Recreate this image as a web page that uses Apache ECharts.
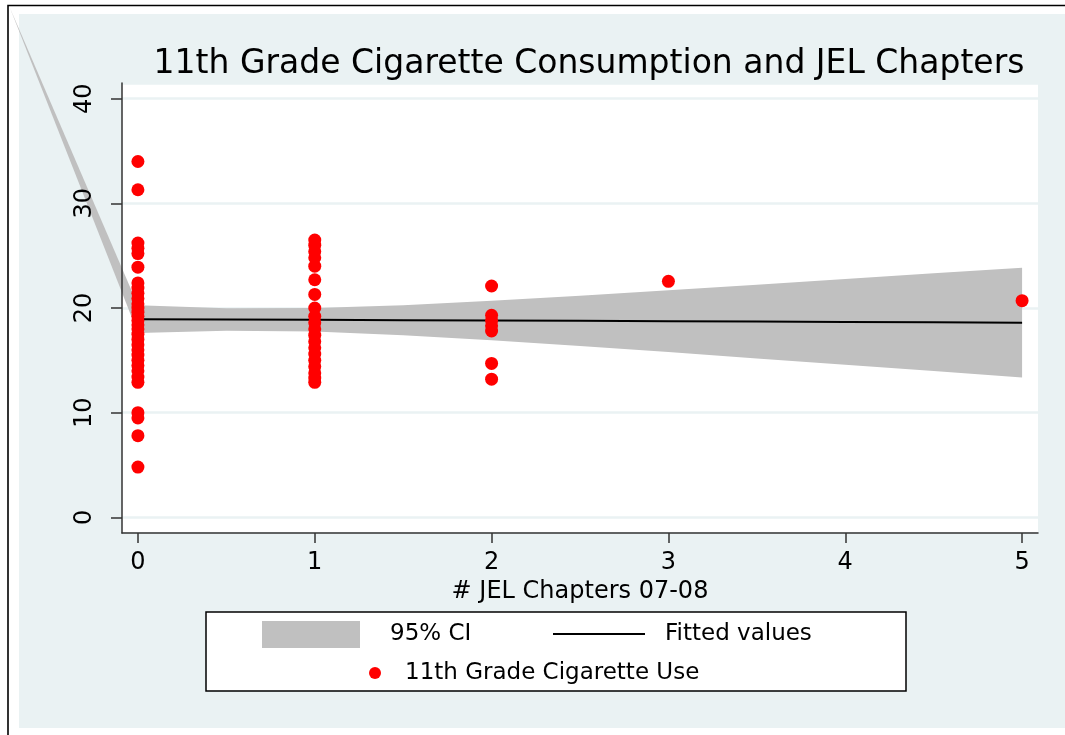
<!DOCTYPE html>
<html><head><meta charset="utf-8">
<script src="https://cdn.jsdelivr.net/npm/echarts@6/dist/echarts.min.js"></script>
<style>html,body{margin:0;padding:0;background:#fff}#c{width:1065px;height:735px}</style>
</head><body><div id="c"></div>
<script>
const chartTitle = '11th Grade Cigarette Consumption and JEL Chapters';
const xAxisTitle = '# JEL Chapters 07-08';
const xTicks = [0, 1, 2, 3, 4, 5];
const yTicks = [0, 10, 20, 30, 40];

// Scatter: number of JEL chapters (x) and 11th grade cigarette use (y)
const jelChapters = [
  0,0,0,0,0,0,0,0,0,0,0,0,0,0,0,0,0,0,0,0,0,0,0,0,0,0,0,0,0,0,0,
  1,1,1,1,1,1,1,1,1,1,1,1,1,1,1,1,1,1,1,1,
  2,2,2,2,2,2,2,
  3,
  5
];
const cigaretteUse = [
  34.0, 31.3, 26.2, 25.7, 25.2, 23.9, 22.4, 21.9, 21.4, 20.9, 20.4, 20.0, 19.6, 19.2, 18.8, 18.4,
  18.0, 17.5, 17.0, 16.5, 16.0, 15.5, 15.0, 14.5, 14.0, 13.4, 12.9, 10.0, 9.5, 7.8, 4.8,
  26.5, 26.0, 25.4, 24.8, 24.0, 22.7, 21.3, 20.0, 19.2, 18.6, 18.0, 17.4, 16.8, 16.2, 15.6, 15.0,
  14.4, 13.8, 13.3, 12.9,
  22.1, 19.3, 18.8, 18.3, 17.8, 14.7, 13.2,
  22.55,
  20.7
];

// Fitted values and 95% CI
const fitX = [0, 0.5, 1, 1.5, 2, 2.5, 3, 3.5, 4, 4.5, 5];
const fitted = [18.93, 18.90, 18.87, 18.83, 18.80, 18.77, 18.74, 18.70, 18.67, 18.64, 18.60];
const ciUpper = [20.26, 19.98, 19.99, 20.26, 20.69, 21.18, 21.69, 22.22, 22.76, 23.31, 23.85];
const ciLower = [17.60, 17.83, 17.75, 17.40, 16.91, 16.36, 15.79, 15.18, 14.58, 13.97, 13.35];

const FONT = 'DejaVu Sans';
const BG = '#eaf2f3';
const AXIS = '#333333';

const chart = echarts.init(document.getElementById('c'), null, {renderer: 'canvas'});
const points = jelChapters.map((x, i) => [x, cigaretteUse[i]]);
const fitData = fitX.map((x, i) => [x, fitted[i]]);
const ciData = fitX.map((x, i) => [x, ciLower[i], ciUpper[i]]);

const option = {
  animation: false,
  title: {
    text: chartTitle, left: 584, top: 43, textAlign: 'center',
    textStyle: {fontFamily: FONT, fontSize: 33, fontWeight: 'normal', color: '#000'}
  },
  grid: {left: 122, right: 27, top: 83, bottom: 202, show: true, backgroundColor: '#fff', borderWidth: 0, containLabel: false},
  xAxis: {
    type: 'value', min: -0.09, max: 5.09, z: 6,
    name: xAxisTitle, nameLocation: 'middle', nameGap: 40,
    nameTextStyle: {fontFamily: FONT, fontSize: 24, color: '#000'},
    axisLine: {show: true, onZero: false, lineStyle: {color: AXIS, width: 1.5}},
    axisTick: {show: true, length: 10, customValues: xTicks, lineStyle: {color: AXIS, width: 1.5}},
    axisLabel: {customValues: xTicks, margin: 18, fontFamily: FONT, fontSize: 24, color: '#000'},
    splitLine: {show: false}
  },
  yAxis: [
    {
      type: 'value', min: -1.5, max: 41.5, z: 0,
      axisLine: {show: false}, axisTick: {show: false}, axisLabel: {show: false},
      splitLine: {show: true, lineStyle: {color: BG, width: 2.5}}
    },
    {
      type: 'value', min: -1.5, max: 41.5, z: 6, position: 'left',
      axisLine: {show: true, onZero: false, lineStyle: {color: AXIS, width: 1.5}},
      axisTick: {show: true, length: 11, customValues: yTicks, lineStyle: {color: AXIS, width: 1.5}},
      axisLabel: {customValues: yTicks, rotate: 90, margin: 25, fontFamily: FONT, fontSize: 24, color: '#000'},
      splitLine: {show: false}
    }
  ],
  legend: [
    {data: [{name: '95% CI', icon: 'rect'}], left: 262, top: 621, padding: 0, itemWidth: 98, itemHeight: 27,
     textStyle: {fontFamily: FONT, fontSize: 23, color: '#000', lineHeight: 27, padding: [0, 0, 0, 25]}, selectedMode: false},
    {data: [{name: 'Fitted values', icon: 'rect'}], left: 553, top: 620.5, padding: 0, itemWidth: 92, itemHeight: 2,
     textStyle: {fontFamily: FONT, fontSize: 23, color: '#000', lineHeight: 27, padding: [0, 0, 0, 15]}, selectedMode: false},
    {data: [{name: '11th Grade Cigarette Use', icon: 'circle'}], left: 369, top: 659.5, padding: 0, itemWidth: 12, itemHeight: 12,
     textStyle: {fontFamily: FONT, fontSize: 23, color: '#000', lineHeight: 27, padding: [0, 0, 0, 19]}, selectedMode: false}
  ],
  graphic: [
    {type: 'rect', silent: true, z: -20, shape: {x: 19, y: 14, width: 1060, height: 714}, style: {fill: BG}},
    {type: 'polyline', silent: true, z: -20, shape: {points: [[8, 745], [8, 5.5], [1075, 5.5]]}, style: {stroke: '#000', lineWidth: 1.6, fill: null}},
    {type: 'rect', silent: true, z: -5, shape: {x: 206, y: 612, width: 700, height: 79}, style: {fill: '#fff', stroke: '#000', lineWidth: 1.5}}
  ],
  series: [
    {
      type: 'custom', name: '95% CI', coordinateSystem: 'cartesian2d', data: ciData, clip: false, z: 1,
      itemStyle: {color: '#c0c0c0'},
      encode: {x: 0, y: [1, 2]},
      renderItem: function (params, api) {
        if (params.dataIndex !== 0) return null;
        const up = ciData.map(d => api.coord([d[0], d[2]]));
        const lo = ciData.map(d => api.coord([d[0], d[1]])).reverse();
        const band = {type: 'polygon', shape: {points: up.concat(lo)}, style: {fill: '#c0c0c0'}};
        const artifact = {type: 'polygon', shape: {points: [[10, 8], up[0], lo[lo.length - 1]]}, style: {fill: '#c0c0c0'}};
        return {type: 'group', children: [artifact, band]};
      }
    },
    {
      type: 'line', name: 'Fitted values', data: fitData, symbol: 'none', z: 3,
      lineStyle: {color: '#000', width: 2}, itemStyle: {color: '#000'}
    },
    {
      type: 'scatter', name: '11th Grade Cigarette Use', data: points, symbolSize: 13, z: 4,
      itemStyle: {color: '#ff0000', opacity: 1}
    }
  ]
};
chart.setOption(option);
</script>
</body></html>
